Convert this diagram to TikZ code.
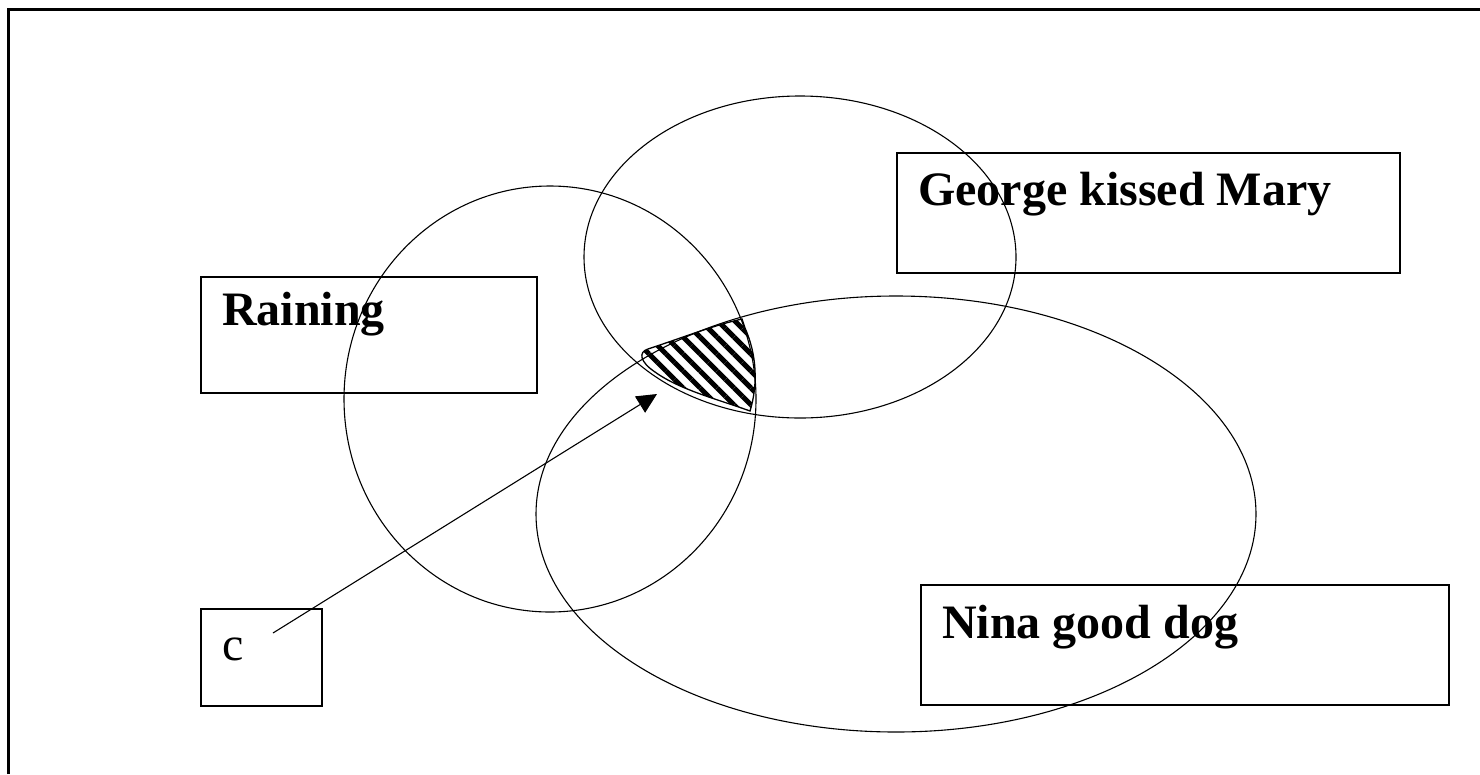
\documentclass[tikz,border=0pt]{standalone}
\usepackage{fontspec}
\setmainfont{Liberation Serif}
\usetikzlibrary{arrows.meta,patterns.meta}
\begin{document}
\begin{tikzpicture}[x=1pt,y=-1pt,
  setshape/.style={draw=black,line width=1.1pt},
  labelbox/.style={draw=black,line width=1.8pt,fill=none},
  bigtext/.style={anchor=base west,inner sep=0pt,font=\fontsize{48}{56}\selectfont\bfseries},
  smalltext/.style={anchor=base west,inner sep=0pt,font=\fontsize{48}{56}\selectfont},
  hatch/.style={draw=black,line width=1.3pt,pattern={Lines[angle=-45,distance=12pt,line width=5pt]}}]
\useasboundingbox (0,0) rectangle (1480,774);
% frame
\draw[line width=2.2pt] (8.5,774) -- (8.5,9.5) -- (1480,9.5);
% sets
\draw[setshape] (550,399) ellipse [x radius=206, y radius=213];
\draw[setshape] (800,257) ellipse [x radius=216, y radius=161];
\draw[setshape] (896,514) ellipse [x radius=360, y radius=218];
% hatched intersection
\draw[hatch] (648,349) .. controls (690,335) and (715,325) .. (742,319) -- (745,328)
  .. controls (757,355) and (758,385) .. (750,411)
  .. controls (720,400) and (680,390) .. (655,372)
  .. controls (640,362) and (638,352) .. (648,349) -- cycle;
% boxes
\draw[labelbox] (201,277) rectangle (537,393) node[coordinate] (rainbox) {};
\draw[labelbox] (897,153) rectangle (1400,273) node[coordinate] (georgebox) {};
\draw[labelbox] (921,585) rectangle (1449,705) node[coordinate] (ninabox) {};
\draw[labelbox] (201,609) rectangle (322,706) node[coordinate] (cbox) {};
% texts
\node[bigtext] (rain) at (222,325) {Raining};
\node[bigtext] (george) at (918,205) {George kissed Mary};
\node[bigtext] (nina) at (942,638) {Nina good dog};
\node[smalltext] (c) at (222,660) {c};
% arrow
\coordinate (astart) at (273,633);
\coordinate (aend) at (657,394);
\draw[line width=1.1pt,-{Triangle[length=20pt,width=19pt]}] (astart) -- (aend);
\end{tikzpicture}
\end{document}
